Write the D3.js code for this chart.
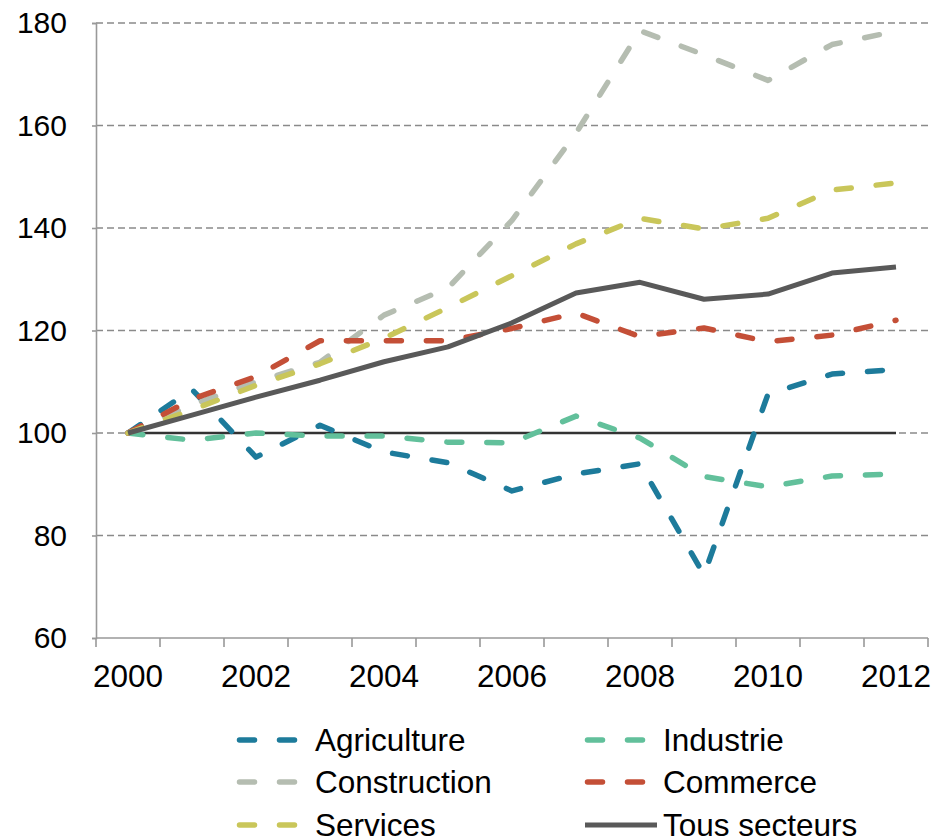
<!DOCTYPE html>
<html lang="fr">
<head>
<meta charset="utf-8">
<script src="https://d3js.org/d3.v7.min.js"></script>
<style>
  body {margin:0; background:#fff;}
  svg {font-family:"Liberation Sans", Arial, Helvetica, sans-serif;}
</style>
</head>
<body>
<script>
// valeurs (base 100 en 2000)
let years = [2000,2001,2002,2003,2004,2005,2006,2007,2008,2009,2010,2011,2012];
let agriculture  = [100,108.5,95.3,101.5,96.3,94.2,88.7,92,94,72.3,107.6,111.5,112.4];
let industrie    = [100,98.6,100,99.4,99.4,98.2,98.1,103.3,99,91.5,89.5,91.6,92];
let construction = [100,105.5,110,113.8,123,128.3,141.5,158.5,178.5,173.8,168.8,175.8,178.4];
let commerce     = [100,106.6,111,118,118,118,120.4,123.4,118.8,120.5,117.8,119.1,122];
let services     = [100,104.5,109.3,113.5,118.5,124.5,130.7,136.9,141.9,139.8,141.9,147.4,148.8];
let tous         = [100,103.5,107,110.3,113.9,116.8,121.5,127.3,129.4,126.1,127.1,131.2,132.4];
let yTicks = [60,80,100,120,140,160,180];
let xLabels = [2000,2002,2004,2006,2008,2010,2012];

let series = [
  {name:"Agriculture",  values:agriculture,  color:"#1d7b9b", dash:true},
  {name:"Industrie",    values:industrie,    color:"#62c09b", dash:true},
  {name:"Construction", values:construction, color:"#b5bdb1", dash:true},
  {name:"Commerce",     values:commerce,     color:"#c44f37", dash:true},
  {name:"Services",     values:services,     color:"#c9c65a", dash:true},
  {name:"Tous secteurs",values:tous,         color:"#595959", dash:false}
];

let svg = d3.select("body").append("svg")
  .attr("width", 946)
  .attr("height", 840);

let x = d3.scaleBand().domain(years).range([96, 928]);
let y = d3.scaleLinear().domain([60, 180]).range([638, 23]);
let cx = (yr) => x(yr) + x.bandwidth() / 2;

// grille
svg.append("g")
  .selectAll("line")
  .data(yTicks.filter(d => d > 60))
  .enter().append("line")
  .attr("x1", 96).attr("x2", 928)
  .attr("y1", d => y(d)).attr("y2", d => y(d))
  .attr("stroke", "#8a8a8a")
  .attr("stroke-width", 1.6)
  .attr("stroke-dasharray", "7,4");

// axe y
let yAxis = svg.append("g")
  .attr("transform", "translate(96,0)")
  .call(d3.axisLeft(y).tickValues(yTicks).tickSize(4).tickPadding(25));
yAxis.select(".domain").attr("stroke", "#999").attr("stroke-width", 1.6);
yAxis.selectAll(".tick line").attr("stroke", "#999").attr("stroke-width", 1.6);
yAxis.selectAll("text").attr("font-size", 30).attr("fill", "#000")
  .attr("font-family", "Liberation Sans, Arial, sans-serif");

// axe x : traits aux limites des catégories
let xAxisG = svg.append("g").attr("transform", "translate(0,638)");
xAxisG.append("line")
  .attr("x1", 96).attr("x2", 928)
  .attr("stroke", "#999").attr("stroke-width", 1.6);
xAxisG.selectAll(".tk")
  .data(years.concat([null]))
  .enter().append("line")
  .attr("class", "tk")
  .attr("x1", d => d === null ? 928 : x(d))
  .attr("x2", d => d === null ? 928 : x(d))
  .attr("y1", 0).attr("y2", 9)
  .attr("stroke", "#999").attr("stroke-width", 1.6);
xAxisG.selectAll("text")
  .data(xLabels)
  .enter().append("text")
  .attr("x", d => cx(d))
  .attr("y", 49)
  .attr("text-anchor", "middle")
  .attr("font-size", 31.5)
  .text(d => d);

// ligne de base 100
svg.append("line")
  .attr("x1", cx(2000)).attr("x2", cx(2012))
  .attr("y1", y(100)).attr("y2", y(100))
  .attr("stroke", "#333")
  .attr("stroke-width", 2.5);

let line = d3.line()
  .x((d, i) => cx(years[i]))
  .y(d => y(d));

svg.append("g")
  .selectAll("path")
  .data(series)
  .enter().append("path")
  .attr("d", d => line(d.values))
  .attr("fill", "none")
  .attr("stroke", d => d.color)
  .attr("stroke-width", d => d.dash ? 5.5 : 5)
  .attr("stroke-linecap", d => d.dash ? "round" : "butt")
  .attr("stroke-linejoin", "round")
  .attr("stroke-dasharray", d => d.dash ? "15,25" : null);

// légende
let legendPos = [[237,740],[585,740],[237,782],[585,782],[237,825],[585,825]];
let legend = svg.append("g")
  .selectAll("g")
  .data(series)
  .enter().append("g")
  .attr("transform", (d, i) => "translate(" + legendPos[i][0] + "," + legendPos[i][1] + ")");

legend.append("line")
  .attr("x1", d => d.dash ? 2.5 : 0)
  .attr("x2", d => d.dash ? 62 : 72)
  .attr("stroke", d => d.color)
  .attr("stroke-width", d => d.dash ? 5.5 : 5)
  .attr("stroke-linecap", d => d.dash ? "round" : "butt")
  .attr("stroke-dasharray", d => d.dash ? "15,25" : null);

legend.append("text")
  .attr("x", 78)
  .attr("y", 0)
  .attr("dy", "0.35em")
  .attr("font-size", 31.5)
  .text(d => d.name);
</script>
</body>
</html>
